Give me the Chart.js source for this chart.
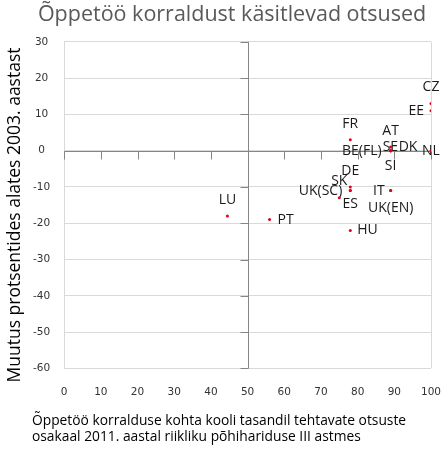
<!DOCTYPE html>
<html>
<head>
<meta charset="utf-8">
<script src="https://cdn.jsdelivr.net/npm/chart.js@4.4.0/dist/chart.umd.min.js"></script>
<style>
  html, body { margin: 0; padding: 0; background: #fff; }
  #wrap { width: 442px; height: 450px; }
</style>
</head>
<body>
<div id="wrap"><canvas id="chart"></canvas></div>
<script>
// data
const countries = ['CZ', 'EE', 'NL', 'FR', 'AT', 'SE', 'DK', 'BE(FL)', 'SI', 'IT', 'UK(EN)', 'DE', 'SK', 'UK(SC)', 'ES', 'HU', 'PT', 'LU'];
const schoolShare2011 = [100, 100, 100, 78, 89, 89, 89, 89, 89, 89, 89, 78, 75, 78, 78, 78, 56, 44.5];
const changeSince2003 = [13, 11, 0, 3, 1, 0, 0, 0, 0, -11, -11, -10, -13, -11, -11, -22, -19, -18];
const xTickValues = [0, 10, 20, 30, 40, 50, 60, 70, 80, 90, 100];
const yTickValues = [30, 20, 10, 0, -10, -20, -30, -40, -50, -60];

const chartTitle = 'Õppetöö korraldust käsitlevad otsused';
const xTitle = ['Õppetöö korralduse kohta kooli tasandil tehtavate otsuste', 'osakaal 2011. aastal riikliku põhihariduse III astmes'];
const yTitle = 'Muutus protsentides alates 2003. aastast';

// where each label sits relative to its point: [dx, dy, textAlign]
const labelPlace = {
    'CZ': [0, -16, 'center'],
    'EE': [-7, 0, 'right'],
    'NL': [0, 0, 'center'],
    'FR': [0, -16, 'center'],
    'AT': [0, -16, 'center'],
    'SE': [-8, -4, 'left'],
    'DK': [8, -4, 'left'],
    'BE(FL)': [-9, 0, 'right'],
    'SI': [0, 15, 'center'],
    'IT': [-6, 0, 'right'],
    'UK(EN)': [0, 17, 'center'],
    'DE': [0, -16, 'center'],
    'SK': [0, -17, 'center'],
    'UK(SC)': [-8, 0, 'right'],
    'ES': [0, 13, 'center'],
    'HU': [7, 0, 'left'],
    'PT': [8, 0, 'left'],
    'LU': [0, -16, 'center']
};

const points = countries.map((c, i) => ({ x: schoolShare2011[i], y: changeSince2003[i], label: c }));

const axisColor = '#868686';
const gridColor = '#d9d9d9';
const clear = 'rgba(0,0,0,0)';

const crossAxes = {
    id: 'crossAxes',
    beforeDatasetsDraw(chart) {
        const { ctx, scales: { x, y } } = chart;
        const x0 = Math.round(x.getPixelForValue(50)) + 0.5;
        const y0 = Math.round(y.getPixelForValue(0)) + 0.5;
        ctx.save();
        ctx.strokeStyle = axisColor;
        ctx.lineWidth = 1;
        ctx.beginPath();
        ctx.moveTo(x.left, y0);
        ctx.lineTo(x.right, y0);
        xTickValues.forEach(v => {
            const px = Math.round(x.getPixelForValue(v)) + 0.5;
            ctx.moveTo(px, y0);
            ctx.lineTo(px, y0 + 8);
        });
        ctx.moveTo(x0, y.top);
        ctx.lineTo(x0, y.bottom);
        yTickValues.forEach(v => {
            const py = Math.round(y.getPixelForValue(v)) + 0.5;
            ctx.moveTo(x0 - 8, py);
            ctx.lineTo(x0, py);
        });
        ctx.stroke();

        // country labels
        ctx.font = '14px "Open Sans"';
        ctx.fillStyle = '#1a1a1a';
        ctx.textBaseline = 'middle';
        const meta = chart.getDatasetMeta(0);
        meta.data.forEach((pt, i) => {
            const p = labelPlace[countries[i]] || [0, -16, 'center'];
            ctx.textAlign = p[2];
            ctx.fillText(countries[i], pt.x + p[0], pt.y + p[1]);
        });
        ctx.restore();
    },
    afterDraw(chart) {
        const { ctx } = chart;
        ctx.save();
        ctx.fillStyle = '#000';
        ctx.textBaseline = 'middle';
        ctx.textAlign = 'left';
        ctx.font = '13.8px "Open Sans"';
        ctx.fillText(xTitle[0], 32, 421);
        ctx.fillText(xTitle[1], 32, 437);

        ctx.translate(15, 215);
        ctx.rotate(-Math.PI / 2);
        ctx.textAlign = 'center';
        ctx.font = '17.5px "Open Sans"';
        ctx.fillText(yTitle, 0, 0);
        ctx.restore();
    }
};

new Chart(document.getElementById('chart'), {
    type: 'scatter',
    data: {
        datasets: [{
            data: points,
            pointRadius: 1.5,
            pointHoverRadius: 1.5,
            pointBorderWidth: 0,
            backgroundColor: '#e3001b',
            borderColor: '#e3001b'
        }]
    },
    options: {
        responsive: true,
        maintainAspectRatio: false,
        animation: false,
        events: [],
        layout: {
            padding: { left: 33, right: 11, top: 0, bottom: 51 }
        },
        plugins: {
            legend: { display: false },
            tooltip: { enabled: false },
            title: {
                display: true,
                text: chartTitle,
                color: '#595959',
                font: { family: '"Open Sans"', size: 21.5, weight: 'normal' },
                padding: { top: 2, bottom: 14 }
            }
        },
        scales: {
            x: {
                type: 'linear',
                min: 0,
                max: 100,
                afterBuildTicks: s => { s.ticks = xTickValues.map(v => ({ value: v })); },
                grid: {
                    drawTicks: true,
                    tickLength: 18,
                    tickColor: clear,
                    color: c => (c.tick && (c.tick.value === 0 || c.tick.value === 100)) ? gridColor : clear
                },
                border: { display: false },
                ticks: {
                    padding: 0,
                    color: '#333',
                    maxRotation: 0,
                    autoSkip: false,
                    font: { family: '"DejaVu Sans"', size: 10.5 }
                }
            },
            y: {
                type: 'linear',
                min: -60,
                max: 30,
                afterBuildTicks: s => { s.ticks = yTickValues.map(v => ({ value: v })); },
                grid: { drawTicks: true, tickLength: 14, tickColor: clear, color: gridColor },
                border: { display: false },
                ticks: {
                    padding: 0,
                    crossAlign: 'center',
                    color: '#333',
                    autoSkip: false,
                    font: { family: '"DejaVu Sans"', size: 10.5 }
                }
            }
        }
    },
    plugins: [crossAxes]
});
</script>
</body>
</html>
